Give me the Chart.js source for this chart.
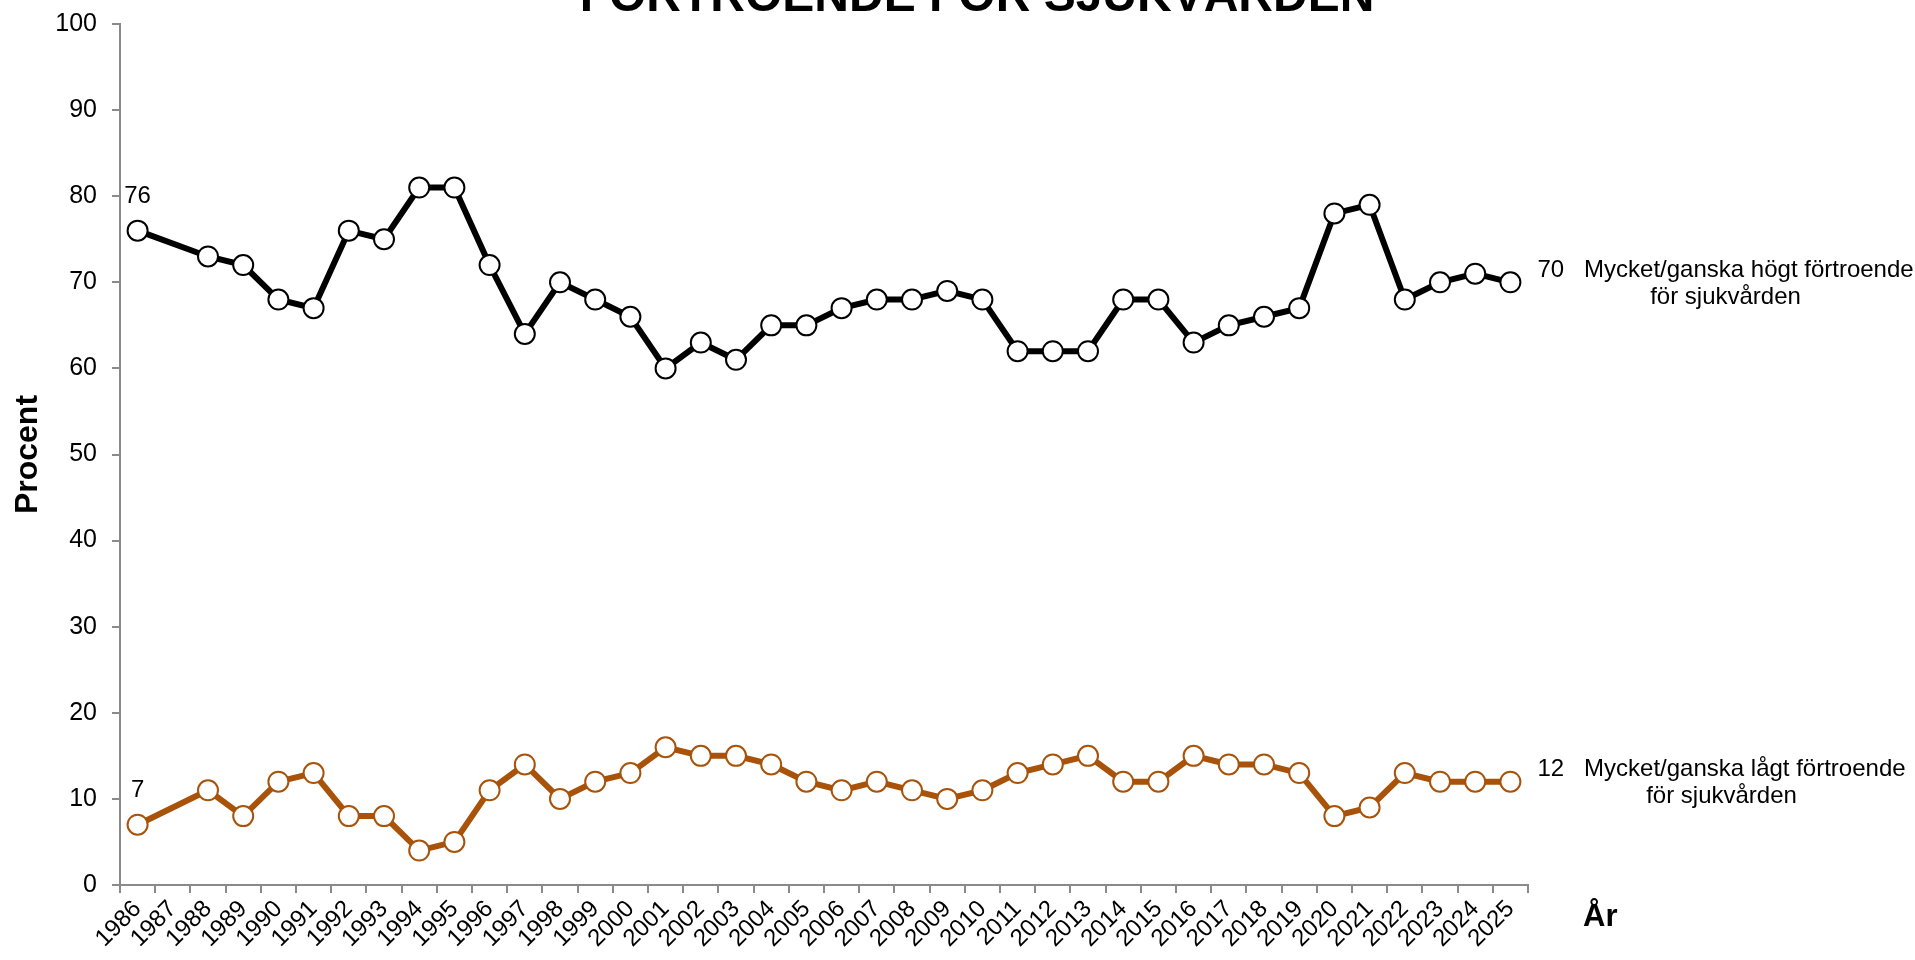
<!DOCTYPE html>
<html lang="sv">
<head>
<meta charset="utf-8">
<title>Förtroende för sjukvården</title>
<script src="https://cdn.jsdelivr.net/npm/chart.js@4/dist/chart.umd.min.js"></script>
<style>
  html, body { margin: 0; padding: 0; background: #fff; }
  #chart { display: block; }
</style>
</head>
<body>
<canvas id="chart" width="1915" height="960"></canvas>
<script>
// ---------------------------------------------------------
// Data
// ---------------------------------------------------------
const years = ['1986','1987','1988','1989','1990','1991','1992','1993','1994','1995',
  '1996','1997','1998','1999','2000','2001','2002','2003','2004','2005',
  '2006','2007','2008','2009','2010','2011','2012','2013','2014','2015',
  '2016','2017','2018','2019','2020','2021','2022','2023','2024','2025'];

// 1987 saknas i mätningen
const highTrust = [76, null, 73, 72, 68, 67, 76, 75, 81, 81,
  72, 64, 70, 68, 66, 60, 63, 61, 65, 65,
  67, 68, 68, 69, 68, 62, 62, 62, 68, 68,
  63, 65, 66, 67, 78, 79, 68, 70, 71, 70];

const lowTrust = [7, null, 11, 8, 12, 13, 8, 8, 4, 5,
  11, 14, 10, 12, 13, 16, 15, 15, 14, 12,
  11, 12, 11, 10, 11, 13, 14, 15, 12, 12,
  15, 14, 14, 13, 8, 9, 13, 12, 12, 12];

const seriesNames = [
  ['Mycket/ganska högt förtroende', 'för sjukvården'],
  ['Mycket/ganska lågt förtroende', 'för sjukvården']
];
const yTicks = [0, 10, 20, 30, 40, 50, 60, 70, 80, 90, 100];

const FONT = "'Liberation Sans', Arial, sans-serif";
const AXIS_GREY = '#8a8a8a';
const BROWN = '#a8520a';

// ---------------------------------------------------------
// Extra text: title, end labels, first-value labels, "År"
// ---------------------------------------------------------
const annotations = {
  id: 'annotations',
  afterDatasetsDraw(chart) {
    const ctx = chart.ctx;
    ctx.save();
    ctx.fillStyle = '#000';

    // title (runs off the top edge as in the original)
    ctx.font = 'bold 48px ' + FONT;
    ctx.textAlign = 'center';
    ctx.textBaseline = 'alphabetic';
    ctx.fillText('FÖRTROENDE FÖR SJUKVÅRDEN', 977, 11);

    // x-axis name, placed to the right of the axis
    ctx.font = 'bold 31px ' + FONT;
    ctx.textAlign = 'left';
    ctx.textBaseline = 'middle';
    ctx.fillText('År', 1583, 917);

    ctx.font = '24px ' + FONT;
    chart.data.datasets.forEach((ds, i) => {
      const meta = chart.getDatasetMeta(i);
      const vals = ds.data;

      // first value above its point
      const first = vals.findIndex(v => v !== null);
      const p0 = meta.data[first];
      ctx.textAlign = 'center';
      ctx.fillText(String(vals[first]), p0.x, p0.y - 34);

      // last value + series name to the right
      let last = vals.length - 1;
      while (vals[last] === null) last--;
      const p1 = meta.data[last];
      const line1 = vals[last] + '   ' + seriesNames[i][0];
      const x1 = p1.x + 27;
      const y1 = p1.y - 12;
      const w1 = ctx.measureText(line1).width;
      ctx.textAlign = 'left';
      ctx.fillText(line1, x1, y1);
      ctx.textAlign = 'center';
      ctx.fillText(seriesNames[i][1], x1 + w1 / 2, y1 + 27);
    });
    ctx.restore();
  }
};

// ---------------------------------------------------------
// Chart
// ---------------------------------------------------------
new Chart(document.getElementById('chart'), {
  type: 'line',
  data: {
    labels: years,
    datasets: [
      {
        data: highTrust,
        borderColor: '#000',
        borderWidth: 6,
        pointRadius: 10,
        pointBorderWidth: 2,
        pointBackgroundColor: '#fff',
        pointBorderColor: '#000',
        spanGaps: true,
        tension: 0
      },
      {
        data: lowTrust,
        borderColor: BROWN,
        borderWidth: 6,
        pointRadius: 10,
        pointBorderWidth: 2,
        pointBackgroundColor: '#fff',
        pointBorderColor: BROWN,
        spanGaps: true,
        tension: 0
      }
    ]
  },
  options: {
    responsive: false,
    animation: false,
    devicePixelRatio: 1,
    layout: { padding: { top: 24, right: 387, bottom: 0, left: 0 } },
    plugins: {
      legend: { display: false },
      tooltip: { enabled: false }
    },
    scales: {
      x: {
        type: 'category',
        offset: true,
        grid: {
          offset: true,
          drawOnChartArea: false,
          drawTicks: true,
          tickLength: 8,
          color: AXIS_GREY,
          lineWidth: 2
        },
        border: { color: AXIS_GREY, width: 2 },
        ticks: {
          autoSkip: false,
          minRotation: 45,
          maxRotation: 45,
          padding: 2,
          color: '#000',
          font: { family: FONT, size: 24 }
        },
        afterFit(scale) { scale.height = 75; }
      },
      y: {
        min: 0,
        max: 100,
        afterBuildTicks(scale) { scale.ticks = yTicks.map(v => ({ value: v })); },
        grid: {
          drawOnChartArea: false,
          drawTicks: true,
          tickLength: 8,
          color: AXIS_GREY,
          lineWidth: 2
        },
        border: { color: AXIS_GREY, width: 2 },
        ticks: {
          padding: 15,
          color: '#000',
          font: { family: FONT, size: 25 }
        },
        title: {
          display: true,
          text: 'Procent',
          color: '#000',
          padding: { top: 9, bottom: 0 },
          font: { family: FONT, size: 32, weight: 'bold' }
        },
        afterFit(scale) {
          scale.width = 120;
          // keep the plot top fixed by the layout padding only
          scale.paddingTop = 0;
          scale.paddingBottom = 0;
        }
      }
    }
  },
  plugins: [annotations]
});
</script>
</body>
</html>
